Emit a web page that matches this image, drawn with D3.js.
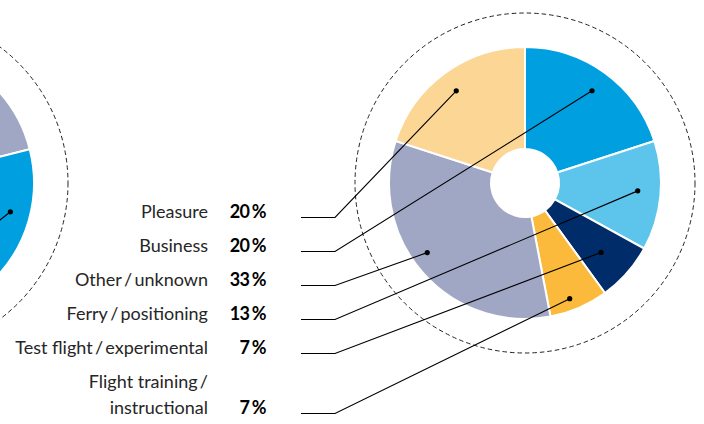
<!DOCTYPE html>
<html lang="en">
<head>
<meta charset="UTF-8" />
<title>Flight purpose</title>
<script src="https://d3js.org/d3.v7.min.js"></script>
<style>
  body { margin: 0; background: #fff; }
  svg { display: block; }
  .label { font-family: Lato, "Open Sans", sans-serif; font-size: 18px; fill: #262626; }
  .pct { font-family: Lato, "Open Sans", sans-serif; font-size: 18px; font-weight: 700; fill: #000; letter-spacing: -0.6px; }
</style>
</head>
<body>
<svg id="chart" width="704" height="424"></svg>
<script>
// --- data (legend order) ---
const categories = ["Pleasure", "Business", "Other / unknown", "Ferry / positioning", "Test flight / experimental", "Flight training / instructional"];
const shares = [20, 20, 33, 13, 7, 7];
const labelLines = [
  ["Pleasure"],
  ["Business"],
  ["Other\u2009/\u2009unknown"],
  ["Ferry\u2009/\u2009positioning"],
  ["Test flight\u2009/\u2009experimental"],
  ["Flight training\u2009/", "instructional"]
];
// order of slices clockwise from 12 o'clock
const pieOrder = ["Business", "Ferry / positioning", "Test flight / experimental", "Flight training / instructional", "Other / unknown", "Pleasure"];

// second (cut off) chart on the left, clockwise from 12 o'clock
const leftCategories = ["Other / unknown", "Business", "Ferry / positioning", "Test flight / experimental", "Flight training / instructional", "Pleasure"];
const leftShares = [21, 17, 10, 8, 14, 30];

// --- styles / layout ---
const colors = {
  "Pleasure": "#fcd694",
  "Business": "#009fe0",
  "Other / unknown": "#a0a7c4",
  "Ferry / positioning": "#5dc4ec",
  "Test flight / experimental": "#002d69",
  "Flight training / instructional": "#fbba3b"
};
// where the leader dot sits inside each slice: [fraction of slice angle, radius]
const dotSpot = {
  "Pleasure": [0.49, 115],
  "Business": [0.5, 114],
  "Other / unknown": [0.55, 120],
  "Ferry / positioning": [0.47, 113],
  "Test flight / experimental": [0.54, 103],
  "Flight training / instructional": [0.59, 124]
};

const svg = d3.select("#chart");
const cx = 525, cy = 183, R = 136, hole = 34, ring = 170;

const pie = d3.pie().sort(null).value(d => d.v);
const arc = d3.arc().innerRadius(hole).outerRadius(R);

function polar(a, r) {
  return [r * Math.sin(a), -r * Math.cos(a)];
}

// left chart (mostly outside the frame)
const lx = -102;
const gl = svg.append("g").attr("transform", `translate(${lx},${cy})`);
gl.append("circle").attr("r", ring).attr("fill", "none")
  .attr("stroke", "#222").attr("stroke-width", 1).attr("stroke-dasharray", "4.5,3");
const leftArcs = pie(leftCategories.map((c, i) => ({ c, v: leftShares[i] })));
gl.selectAll("path").data(leftArcs).join("path")
  .attr("d", arc)
  .attr("fill", d => colors[d.data.c])
  .attr("stroke", "#fff").attr("stroke-width", 2);
const lb = leftArcs.find(d => d.data.c === "Business");
const lp = polar(lb.startAngle + 0.47 * (lb.endAngle - lb.startAngle), 116);
gl.append("line")
  .attr("x1", lp[0]).attr("y1", lp[1])
  .attr("x2", lp[0] - 60).attr("y2", lp[1] + 48)
  .attr("stroke", "#000").attr("stroke-width", 1.1);
gl.append("circle").attr("cx", lp[0]).attr("cy", lp[1]).attr("r", 2.6).attr("fill", "#000");

// main chart
const g = svg.append("g").attr("transform", `translate(${cx},${cy})`);
g.append("circle").attr("r", ring).attr("fill", "none")
  .attr("stroke", "#222").attr("stroke-width", 1).attr("stroke-dasharray", "4.5,3");

const arcs = pie(pieOrder.map(c => ({ c, v: shares[categories.indexOf(c)] })));
g.selectAll("path").data(arcs).join("path")
  .attr("d", arc)
  .attr("fill", d => colors[d.data.c])
  .attr("stroke", "#fff").attr("stroke-width", 2);

// legend rows
const rowY = d3.scaleLinear().domain([0, categories.length - 1]).range([217.5, 387.5]);
const lineGap = 26;
const labelX = 208, pctX = 266, tickX0 = 301, tickX1 = 335;

categories.forEach((c, i) => {
  const lines = labelLines[i];
  const y0 = rowY(i);
  const yLast = y0 + (lines.length - 1) * lineGap;

  const t = svg.append("text").attr("class", "label").attr("text-anchor", "end");
  lines.forEach((s, k) => {
    t.append("tspan").attr("x", labelX).attr("y", y0 + k * lineGap).text(s);
  });
  const pt = svg.append("text").attr("class", "pct").attr("text-anchor", "end")
    .attr("x", pctX).attr("y", yLast);
  pt.append("tspan").text(shares[i]);
  pt.append("tspan").attr("dx", 2.5).text("%");

  const a = arcs.find(d => d.data.c === c);
  const [f, r] = dotSpot[c];
  const p = polar(a.startAngle + f * (a.endAngle - a.startAngle), r);
  const px = cx + p[0], py = cy + p[1];
  svg.append("polyline")
    .attr("points", `${tickX0},${yLast} ${tickX1},${yLast} ${px},${py}`)
    .attr("fill", "none").attr("stroke", "#000").attr("stroke-width", 1.1);
  svg.append("circle").attr("cx", px).attr("cy", py).attr("r", 2.6).attr("fill", "#000");
});
</script>
</body>
</html>
